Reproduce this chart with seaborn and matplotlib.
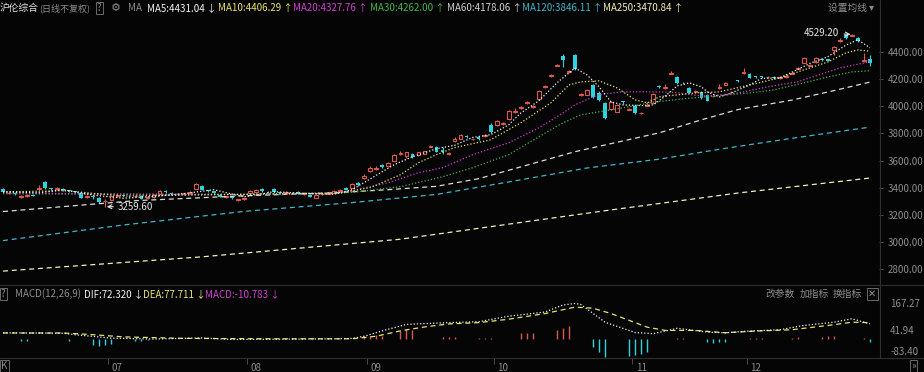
import numpy as np
import seaborn as sns
import matplotlib.pyplot as plt
from matplotlib.lines import Line2D

W, H = 924, 372
BG = '#050505'
RED = '#dc5752'
CYAN = '#2cd3df'
GREY = '#8c8c8c'
C_MA5 = '#f2f2f2'
C_MA10 = '#e9e36a'
C_MA20 = '#d23fd2'
C_MA30 = '#45b84a'
C_MA60 = '#dcdcdc'
C_MA120 = '#3fb6c9'
C_MA250 = '#f3eeb4'

# daily candles, index 0 = first visible day
opens = [3392, 3360, 3362, 3330, 3338, 3345, 3392, 3440, 3395, 3390,
         3392, 3380, 3372, 3363, 3330, 3340, 3327, 3300, 3310, 3340,
         3345, 3340, 3335, 3341, 3322, 3330, 3356, 3375, 3362, 3352,
         3350, 3358, 3393, 3415, 3380, 3372, 3345, 3330, 3335, 3308,
         3318, 3363, 3370, 3393, 3370, 3392, 3366, 3362, 3364, 3370,
         3352, 3349, 3327, 3350, 3356, 3362, 3378, 3400, 3400, 3432,
         3473, 3520, 3540, 3570, 3560, 3599, 3650, 3630, 3650, 3640,
         3650, 3702, 3702, 3680, 3650, 3745, 3760, 3780, 3755, 3770,
         3782, 3860, 3860, 3870, 3907, 3960, 3990, 4025, 3995, 4055,
         4140, 4220, 4300, 4370, 4255, 4378, 4085, 4085, 4157, 4100,
         4025, 3980, 3960, 4035, 3975, 4003, 3948, 4005, 4025, 4150,
         4138, 4240, 4215, 4172, 4135, 4108, 4105, 4084, 4072, 4138,
         4160, 4102, 4190, 4248, 4238, 4220, 4220, 4212, 4215, 4206,
         4215, 4240, 4278, 4320, 4300, 4326, 4345, 4345, 4415, 4482,
         4525, 4520, 4503, 4330, 4345]
closes = [3370, 3364, 3350, 3338, 3345, 3341, 3400, 3395, 3392, 3395,
          3385, 3372, 3368, 3327, 3341, 3330, 3297, 3305, 3341, 3346,
          3341, 3336, 3338, 3320, 3330, 3345, 3378, 3365, 3355, 3350,
          3358, 3368, 3430, 3385, 3372, 3360, 3334, 3336, 3325, 3314,
          3326, 3378, 3380, 3372, 3366, 3368, 3362, 3366, 3360, 3356,
          3358, 3334, 3349, 3356, 3360, 3378, 3382, 3385, 3430, 3420,
          3488, 3547, 3547, 3555, 3585, 3643, 3655, 3660, 3628, 3660,
          3668, 3709, 3665, 3665, 3657, 3762, 3790, 3772, 3762, 3758,
          3790, 3810, 3890, 3878, 3965, 3968, 3998, 4032, 4002, 4115,
          4148, 4228, 4306, 4340, 4262, 4275, 4092, 4120, 4070, 4047,
          3915, 4032, 4010, 4028, 3982, 3950, 3952, 4012, 4090, 4140,
          4145, 4248, 4172, 4170, 4100, 4112, 4060, 4040, 4078, 4145,
          4168, 4106, 4185, 4255, 4210, 4214, 4212, 4218, 4208, 4212,
          4222, 4248, 4285, 4356, 4306, 4356, 4338, 4336, 4437, 4490,
          4503, 4527, 4480, 4340, 4320]
highs = [3398, 3370, 3368, 3345, 3350, 3352, 3422, 3448, 3400, 3402,
         3398, 3386, 3378, 3368, 3348, 3346, 3332, 3318, 3345, 3352,
         3350, 3348, 3344, 3346, 3336, 3350, 3382, 3380, 3368, 3358,
         3363, 3375, 3436, 3420, 3386, 3376, 3350, 3342, 3340, 3320,
         3332, 3384, 3388, 3398, 3375, 3396, 3370, 3372, 3370, 3374,
         3365, 3352, 3352, 3362, 3366, 3382, 3390, 3404, 3436, 3440,
         3500, 3556, 3560, 3578, 3592, 3650, 3668, 3666, 3658, 3665,
         3672, 3716, 3708, 3700, 3662, 3770, 3795, 3785, 3768, 3775,
         3796, 3878, 3895, 3884, 3970, 3985, 4004, 4040, 4010, 4120,
         4155, 4235, 4312, 4385, 4270, 4382, 4100, 4126, 4165, 4110,
         4030, 4038, 4015, 4042, 3990, 4008, 3958, 4030, 4095, 4158,
         4165, 4262, 4220, 4176, 4140, 4118, 4110, 4090, 4085, 4165,
         4175, 4112, 4195, 4280, 4242, 4225, 4226, 4224, 4220, 4218,
         4228, 4255, 4292, 4362, 4312, 4360, 4350, 4350, 4445, 4500,
         4526, 4529.2, 4510, 4395, 4380]
lows = [3365, 3355, 3345, 3322, 3332, 3336, 3386, 3390, 3385, 3384,
        3375, 3366, 3360, 3322, 3325, 3320, 3290, 3259.6, 3305, 3334,
        3335, 3330, 3328, 3315, 3316, 3325, 3350, 3360, 3350, 3344,
        3345, 3352, 3390, 3380, 3366, 3355, 3328, 3322, 3318, 3302,
        3312, 3358, 3365, 3368, 3360, 3362, 3356, 3358, 3355, 3350,
        3348, 3330, 3322, 3346, 3350, 3358, 3372, 3380, 3396, 3414,
        3466, 3515, 3532, 3548, 3555, 3594, 3640, 3622, 3620, 3635,
        3646, 3696, 3660, 3648, 3644, 3738, 3755, 3765, 3748, 3750,
        3776, 3805, 3855, 3862, 3900, 3950, 3980, 4018, 3988, 4050,
        4135, 4214, 4295, 4290, 4248, 4270, 4078, 4080, 4062, 4040,
        3905, 3975, 3955, 4020, 3970, 3945, 3942, 4000, 4020, 4135,
        4130, 4235, 4165, 4164, 4095, 4102, 4055, 4035, 4066, 4130,
        4155, 4098, 4180, 4240, 4205, 4208, 4205, 4206, 4202, 4200,
        4210, 4235, 4272, 4315, 4295, 4322, 4332, 4330, 4378, 4476,
        4498, 4515, 4475, 4325, 4300]

# moving averages (day index, value)
ma5_days = [0, 6, 10, 15, 20, 25, 30, 35, 40, 45, 50, 55, 58, 61, 65, 68, 70, 72, 75, 78,
            81, 84, 86, 89, 92, 94, 95, 97, 99, 101, 103, 106, 108, 110, 112, 114, 116,
            117, 119, 121, 124, 126, 129, 131, 134, 137, 140, 142, 144]
ma5_vals = [3370, 3362, 3385, 3345, 3322, 3335, 3356, 3385, 3332, 3370, 3358, 3352, 3385,
            3465, 3570, 3628, 3657, 3687, 3712, 3770, 3790, 3863, 3950, 4040, 4172, 4246,
            4282, 4231, 4143, 4032, 4010, 4005, 4010, 4075, 4150, 4172, 4143, 4106, 4069,
            4098, 4157, 4205, 4209, 4250, 4315, 4365, 4450, 4490, 4431]
ma10_days = [0, 10, 20, 30, 40, 50, 56, 61, 66, 69, 72, 75, 81, 86, 91, 94, 96, 99, 102,
             105, 107, 109, 115, 119, 124, 129, 132, 137, 140, 142, 144]
ma10_vals = [3368, 3378, 3338, 3345, 3350, 3358, 3362, 3400, 3495, 3584, 3643, 3695, 3753,
             3878, 4025, 4157, 4180, 4187, 4135, 4047, 4025, 4070, 4098, 4106, 4157, 4209,
             4253, 4326, 4393, 4415, 4406]
ma20_days = [0, 20, 40, 55, 58, 64, 69, 73, 78, 84, 89, 92, 95, 98, 100, 103, 109, 112,
             116, 120, 123, 127, 132, 139, 144]
ma20_vals = [3362, 3352, 3350, 3358, 3378, 3437, 3510, 3547, 3643, 3731, 3841, 3922, 4010,
             4069, 4091, 4106, 4106, 4100, 4075, 4085, 4106, 4143, 4180, 4282, 4328]
ma30_days = [0, 30, 55, 59, 66, 73, 78, 84, 89, 93, 96, 99, 104, 108, 113, 118, 124, 128,
             133, 137, 141, 144]
ma30_vals = [3355, 3350, 3355, 3370, 3407, 3480, 3547, 3643, 3775, 3878, 3937, 3959, 3996,
             4030, 4055, 4075, 4098, 4120, 4172, 4216, 4253, 4262]
ma60_days = [0, 22, 40, 55, 64, 72, 79, 95, 109, 116, 122, 131, 138, 144]
ma60_vals = [3224, 3304, 3340, 3362, 3385, 3410, 3466, 3665, 3804, 3900, 3975, 4045, 4115, 4178]
ma120_days = [0, 20, 40, 58, 72, 85, 97, 109, 120, 132, 144]
ma120_vals = [3010, 3125, 3225, 3290, 3350, 3450, 3545, 3610, 3690, 3770, 3846]
ma250_days = [0, 33, 66, 100, 122, 144]
ma250_vals = [2785, 2890, 3020, 3230, 3360, 3471]

# MACD(12,26,9)
dif_days = [0, 10, 12, 15, 18, 25, 33, 38, 45, 55, 58, 60, 63, 67, 72, 76, 79, 84, 90, 93,
            95, 96, 100, 105, 108, 110, 112, 117, 120, 124, 129, 133, 138, 141, 144]
dif_vals = [31, 29, 22, 14, 6, 2, 7, 0, 1, 3, 5, 15, 40, 70, 76, 80, 82, 108, 127, 160,
            167, 162, 80, 32, 27, 39, 52, 34, 31, 39, 45, 65, 80, 96, 72.32]
dea_days = [0, 10, 14, 20, 30, 45, 58, 62, 66, 70, 74, 79, 84, 90, 95, 98, 101, 107, 110,
            115, 120, 125, 131, 137, 141, 144]
dea_vals = [30, 30, 24, 12, 5, 3, 3, 15, 40, 58, 72, 78, 94, 120, 150, 145, 120, 57, 42,
            42, 31, 39, 45, 65, 80, 77.71]
bar_days = [3, 4, 11, 15, 16, 17, 18, 22, 23, 24, 33, 34, 60, 61, 62, 63, 66, 67, 68,
            73, 74, 75, 79, 80, 81, 86, 87, 88, 92, 93, 94, 98, 99, 100, 104, 105, 106,
            107, 112, 113, 117, 118, 119, 120, 124, 125, 126, 131, 132, 136, 137, 138,
            143, 144]
bar_vals = [-6, -5, -5, -25, -30, -28, -22, -6, -5, -4, 3, 4, 12, 18, 22, 16, 38, 48, 45,
            10, 10, 10, 8, 8, 8, 30, 32, 32, 45, 55, 62, -37, -60, -83, -78, -74, -66,
            -60, 8, 8, -12, -15, -12, -10, 8, 8, 8, 6, 10, 12, 14, 18, 6, -10.78]

month_pos = [17.5, 40.5, 60.5, 81.5, 104.5, 123.5]
month_labels = ['07', '08', '09', '10', '11', '12']
price_ticks = [2800, 3000, 3200, 3400, 3600, 3800, 4000, 4200, 4400]
macd_ticks = [167.27, 41.94, -83.40]

sns.set_theme(style='dark', rc={'axes.facecolor': BG, 'figure.facecolor': BG,
                                'axes.edgecolor': BG, 'axes.grid': False})
plt.rcParams['font.family'] = ['Noto Sans CJK SC', 'DejaVu Sans']

fig = plt.figure(figsize=(W / 100, H / 100), dpi=100)
ax = fig.add_axes([0, 1 - 284 / H, 879 / W, 268 / H])
mx = fig.add_axes([0, 1 - 358 / H, 879 / W, 72 / H])

# ---- candles ----
o = np.array(opens, float)
c = np.array(closes, float)
hi = np.array(highs, float)
lo = np.array(lows, float)
x = np.arange(len(c))
up = c >= o
ax.vlines(x, lo, hi, colors=np.where(up, RED, CYAN), lw=0.8, zorder=2)
blo = np.minimum(o, c)
bh = np.maximum(np.abs(c - o), 4)
ax.bar(x[up], bh[up], bottom=blo[up], width=0.62, facecolor=BG, edgecolor=RED, lw=0.8, zorder=3)
ax.bar(x[~up], bh[~up], bottom=blo[~up], width=0.62, color=CYAN, lw=0, zorder=3)

dot = (0, (1, 1.6))
dash = (0, (4, 3))
for d, v, col, ls in [(ma250_days, ma250_vals, C_MA250, dash),
                      (ma120_days, ma120_vals, C_MA120, dash),
                      (ma60_days, ma60_vals, C_MA60, dash),
                      (ma30_days, ma30_vals, C_MA30, dot),
                      (ma20_days, ma20_vals, C_MA20, dot),
                      (ma10_days, ma10_vals, C_MA10, dot),
                      (ma5_days, ma5_vals, C_MA5, dot)]:
    sns.lineplot(x=d, y=v, ax=ax, color=col, lw=0.9, linestyle=ls, zorder=4)

ihigh = int(np.argmax(hi))
ax.annotate(f'{hi[ihigh]:.2f}', xy=(ihigh, hi[ihigh]), xytext=(-9, 1), textcoords='offset points',
            ha='right', va='center', color='#e6e6e6', fontsize=7,
            arrowprops=dict(arrowstyle='->', color='#e6e6e6', lw=0.8, shrinkA=1, shrinkB=1))
ilow = int(np.argmin(lo))
ax.annotate(f'{lo[ilow]:.2f}', xy=(ilow, lo[ilow]), xytext=(9, 0), textcoords='offset points',
            ha='left', va='center', color='#e6e6e6', fontsize=7,
            arrowprops=dict(arrowstyle='->', color='#e6e6e6', lw=0.8, shrinkA=1, shrinkB=1))

ax.set_xlim(-0.5, 145.5)
ax.set_ylim(2690, 4665)
ax.yaxis.tick_right()
ax.set_yticks(price_ticks)
ax.set_yticklabels([f'{p:.2f}' for p in price_ticks])
ax.tick_params(axis='y', colors='#555555', labelcolor=GREY, labelsize=7, length=3, width=0.6, pad=3, right=True)
ax.set_xticks([])
ax.set_xlabel('')
ax.set_ylabel('')

# ---- MACD ----
mx.vlines(bar_days, 0, bar_vals, colors=[RED if v > 0 else CYAN for v in bar_vals], lw=1.0)
sns.lineplot(x=dea_days, y=dea_vals, ax=mx, color=C_MA10, lw=0.9, linestyle=dash)
sns.lineplot(x=dif_days, y=dif_vals, ax=mx, color=C_MA5, lw=0.9, linestyle=dot)
mx.set_xlim(-0.5, 145.5)
mx.set_ylim(-86, 248)
mx.yaxis.tick_right()
mx.set_yticks(macd_ticks)
mx.set_yticklabels([f'{t:.2f}' for t in macd_ticks])
mx.get_yticklabels()[-1].set_va('bottom')
mx.tick_params(axis='y', colors=BG, labelcolor=GREY, labelsize=7, length=0, pad=8, right=True)
mx.set_xticks(month_pos)
mx.set_xticklabels([''] * len(month_pos))
mx.tick_params(axis='x', colors='#555555', length=4, width=0.6, bottom=True, direction='out')
for p, lab in zip(month_pos, month_labels):
    mx.text(p + 0.6, -0.14, lab, transform=mx.get_xaxis_transform(), color=GREY,
            fontsize=7, ha='left', va='center')
mx.set_xlabel('')
mx.set_ylabel('')
for a in (ax, mx):
    for s in a.spines.values():
        s.set_visible(False)

# separators
for ypx in (285, 358):
    fig.add_artist(Line2D([0, 1], [1 - ypx / H] * 2, color='#2e2e2e', lw=0.8))
fig.add_artist(Line2D([879.5 / W] * 2, [1 - 358 / H, 1], color='#2e2e2e', lw=0.8))


def ftxt(xpx, ypx, s, col=GREY, box=False, size=7):
    bb = dict(boxstyle='square,pad=0.15', fc='none', ec='#6a6a6a', lw=0.7) if box else None
    fig.text(xpx / W, 1 - ypx / H, s, color=col, fontsize=size, ha='left', va='center', bbox=bb)


# header
ftxt(0, 8, '沪伦综合', '#e0e0e0')
ftxt(39, 8, '(日线不复权)', size=6.5)
ftxt(97, 8, '?', box=True)
ftxt(111, 8, '⚙', size=8)
ftxt(128, 8, 'MA')
ftxt(147, 8, 'MA5:4431.04 ↓', C_MA5)
ftxt(218, 8, 'MA10:4406.29 ↑', C_MA10)
ftxt(293, 8, 'MA20:4327.76 ↑', C_MA20)
ftxt(370, 8, 'MA30:4262.00 ↑', C_MA30)
ftxt(447, 8, 'MA60:4178.06 ↑', '#cfcfcf')
ftxt(522, 8, 'MA120:3846.11 ↑', C_MA120)
ftxt(603, 8, 'MA250:3470.84 ↑', C_MA250)
ftxt(828, 8, '设置均线 ▾')

ftxt(1, 294, '?', box=True)
ftxt(15, 294, 'MACD(12,26,9)')
ftxt(84, 294, 'DIF:72.320 ↓', '#f0f0f0')
ftxt(143, 294, 'DEA:77.711 ↓', C_MA10)
ftxt(205, 294, 'MACD:-10.783 ↓', C_MA20)
ftxt(765, 294, '改参数')
ftxt(800, 294, '加指标')
ftxt(833, 294, '换指标')
ftxt(868, 294, '✕', box=True)

ftxt(1, 366, 'K', box=True)
ftxt(911, 366, '»', box=True)

fig.savefig('out.png', dpi=100, facecolor=BG)
